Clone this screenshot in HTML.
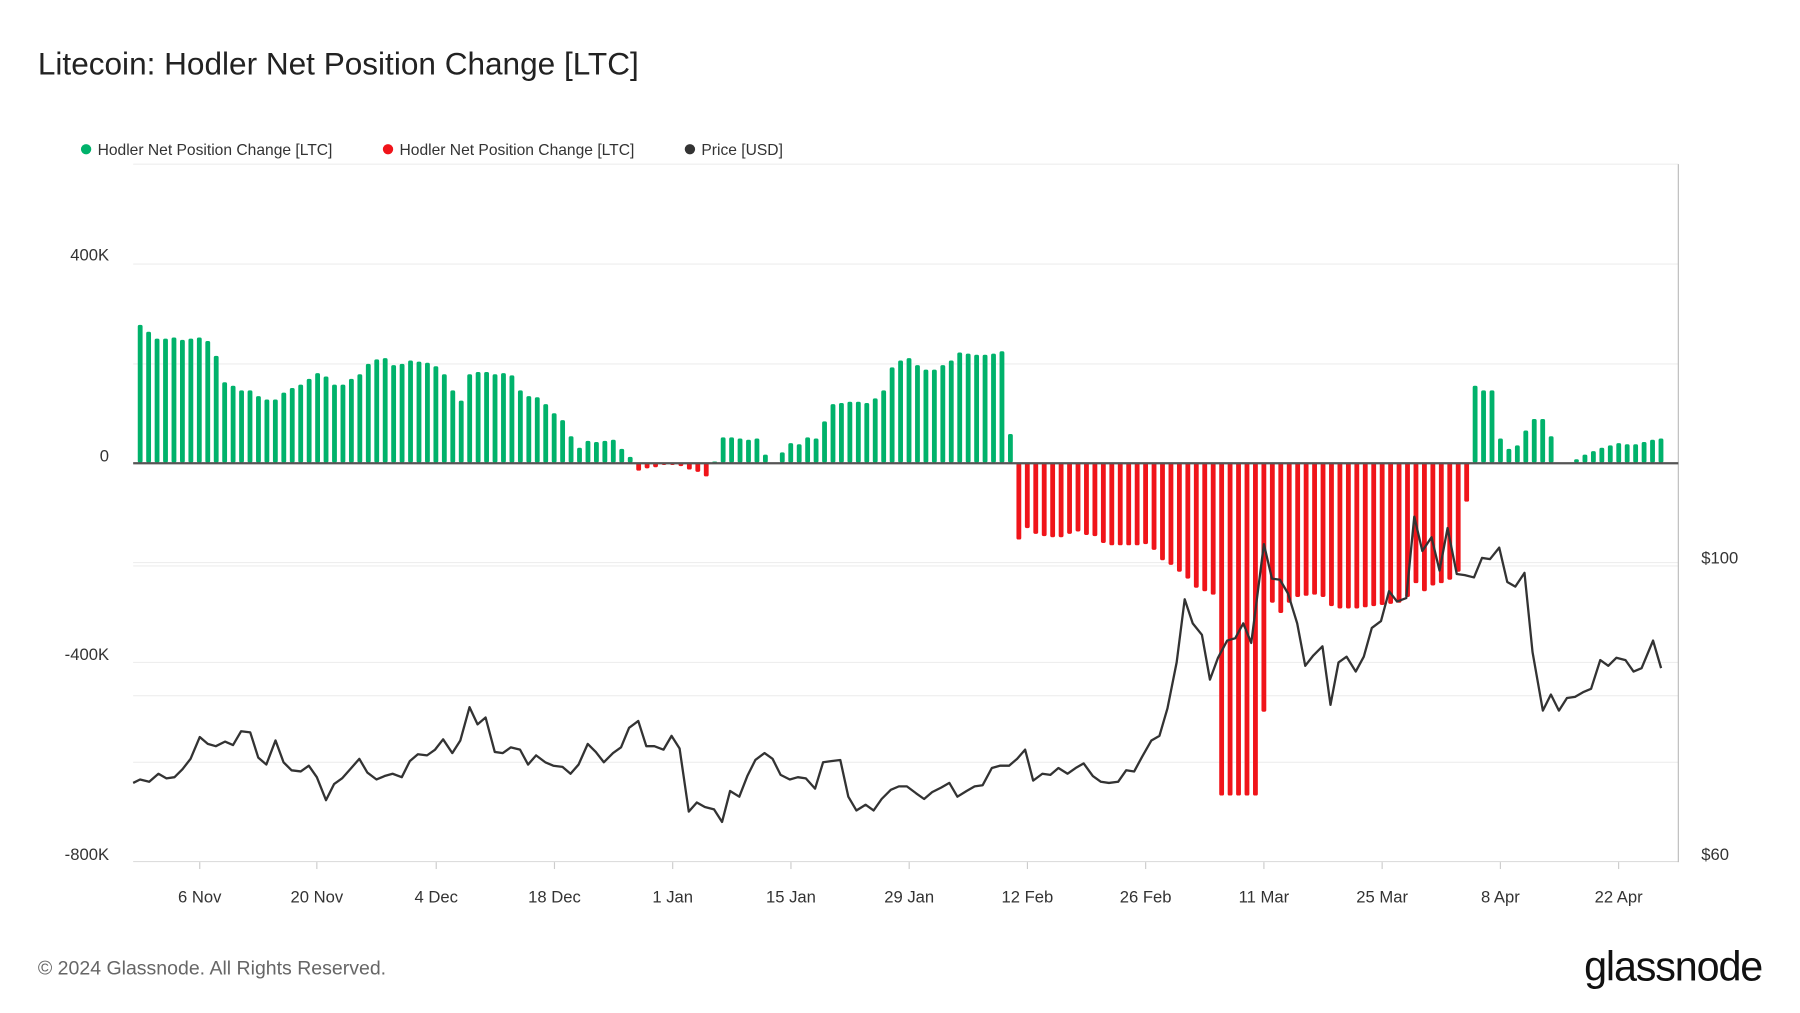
<!DOCTYPE html>
<html><head><meta charset="utf-8"><style>
html,body{margin:0;padding:0;background:#fff}
svg{display:block}
text{font-family:"Liberation Sans",sans-serif}
</style></head><body>
<svg id="s" width="1800" height="1013" viewBox="0 0 1568 882.4" xmlns="http://www.w3.org/2000/svg">
<rect width="1568" height="883" fill="#fff"/>
<text x="33" y="65" font-size="27.5" fill="#222">Litecoin: Hodler Net Position Change [LTC]</text>
<circle cx="75" cy="130" r="4.5" fill="#00b26b"/><text x="85" y="135" font-size="13.6" fill="#333">Hodler Net Position Change [LTC]</text>
<circle cx="338" cy="130" r="4.5" fill="#f0141a"/><text x="348" y="135" font-size="13.6" fill="#333">Hodler Net Position Change [LTC]</text>
<circle cx="601" cy="130" r="4.5" fill="#333"/><text x="611" y="135" font-size="13.6" fill="#333">Price [USD]</text>
<g stroke="#eee" stroke-width="1">
<line x1="116" x2="1462" y1="143" y2="143"/>
<line x1="116" x2="1462" y1="230" y2="230"/>
<line x1="116" x2="1462" y1="317" y2="317"/>
<line x1="116" x2="1462" y1="490" y2="490"/>
<line x1="116" x2="1462" y1="493" y2="493"/>
<line x1="116" x2="1462" y1="577" y2="577"/>
<line x1="116" x2="1462" y1="606" y2="606"/>
<line x1="116" x2="1462" y1="664" y2="664"/>
</g>
<line x1="116" x2="1462" y1="750.5" y2="750.5" stroke="#ddd"/>
<line x1="1462" x2="1462" y1="143" y2="751" stroke="#bbb"/>
<g font-size="14.5" fill="#333" text-anchor="end">
<text x="95" y="227">400K</text><text x="95" y="402">0</text><text x="95" y="575">-400K</text><text x="95" y="749">-800K</text>
</g>
<g font-size="14.5" fill="#333"><text x="1482" y="491">$100</text><text x="1482" y="749">$60</text></g>
<g id="ticks" font-size="14.5" fill="#333" text-anchor="middle"></g>
<g id="bars"></g>
<line x1="116" x2="1462" y1="403.5" y2="403.5" stroke="#555" stroke-width="2"/>
<polyline id="price" fill="none" stroke="#333" stroke-width="2" stroke-linejoin="round"/>
<text x="33" y="849" font-size="17" fill="#666">© 2024 Glassnode. All Rights Reserved.</text>
<text x="1535" y="854" font-size="36" fill="#111" text-anchor="end" letter-spacing="-1">glassnode</text>
</svg>
<script>
(function(){
var NS="http://www.w3.org/2000/svg";
function el(t,a,p,txt){var e=document.createElementNS(NS,t);for(var k in a)e.setAttribute(k,a[k]);if(txt)e.textContent=txt;p.appendChild(e);return e;}
var tk=[[174,"6 Nov"],[276,"20 Nov"],[380,"4 Dec"],[483,"18 Dec"],[586,"1 Jan"],[689,"15 Jan"],[792,"29 Jan"],[895,"12 Feb"],[998,"26 Feb"],[1101,"11 Mar"],[1204,"25 Mar"],[1307,"8 Apr"],[1410,"22 Apr"]];
var T=document.getElementById("ticks");
tk.forEach(function(t){el("line",{x1:t[0],x2:t[0],y1:751,y2:757,stroke:"#ccc"},T);el("text",{x:t[0],y:786},T,t[1]);});
var bp=[122,283,130,289,137,295,145,295,152,294,159,296,167,295,174,294,181,297,188,310,196,333,203,336,210,340,218,340,225,345,232,348,240,348,247,342,254,338,262,335,269,330,276,325,284,328,291,335,298,335,306,330,313,326,320,317,328,313,335,312,342,318,350,317,357,314,364,315,372,316,379,319,386,326,394,340,401,349,409,326,416,324,423,324,431,326,438,325,445,327,453,340,460,345,467,346,475,352,482,360,490,366,497,380,504,390,512,384,519,385,526,384,534,383,541,391,548,398,556,410,563,408,570,407,578,405,585,405,592,406,600,409,607,411,614,415,622,402,629,381,636,381,644,382,651,383,658,382,666,396,673,404,680,394,688,386,695,387,702,381,710,382,717,367,724,352,732,351,739,350,746,350,754,351,761,347,768,340,776,320,783,314,790,312,798,318,805,322,812,322,820,318,827,314,834,307,842,308,849,309,856,309,864,308,871,306,879,378,886,470,893,460,900,465,908,467,915,468,922,468,930,465,937,463,944,466,952,467,959,473,966,475,974,475,981,475,988,475,995,474,1003,479,1010,488,1017,492,1025,498,1032,504,1039,512,1047,515,1054,518,1064,693,1071,693,1079,693,1086,693,1093,693,1101,620,1108,525,1115,534,1122,525,1130,520,1137,519,1144,518,1152,520,1159,528,1166,530,1173,530,1181,530,1188,529,1195,528,1203,527,1210,526,1217,525,1225,520,1232,508,1239,515,1247,510,1254,508,1261,505,1269,498,1277,437,1284,336,1291,340,1298,340,1306,382,1313,391,1320,388,1328,375,1335,365,1342,365,1350,380,1357,403,1364,403,1372,400,1379,396,1386,393,1394,390,1401,388,1408,386,1416,387,1423,387,1430,385,1438,383,1445,382];
var B=document.getElementById("bars");
var n=Math.round((1446-122)/7.36);
for(var i=0;i<=n;i++){var x=122+i*7.36,best=0,bd=1e9;
for(var j=0;j<bp.length;j+=2){var d=Math.abs(bp[j]-x);if(d<bd){bd=d;best=bp[j+1];}}
var yy=best;if(Math.abs(yy-403)<1)continue;
var c=yy<403?"#00b26b":"#f0141a";var ty=Math.min(yy,403),h=Math.abs(yy-403);
el("rect",{x:(x-2).toFixed(2),y:ty,width:4.2,height:h,rx:1.5,fill:c},B);}
var pp=[116,682,122,679,130,681,138,674,145,678,152,677,159,670,166,661,174,642,181,648,188,650,196,646,203,649,210,637,218,638,225,660,232,666,240,645,247,664,254,671,262,672,269,667,276,677,284,697,291,683,298,678,306,669,313,661,320,673,328,679,335,676,342,674,350,677,357,663,364,657,372,658,379,653,386,644,394,656,401,645,409,616,416,631,423,625,431,655,438,656,445,651,453,653,460,666,467,658,475,664,482,667,490,668,497,674,504,666,512,648,519,655,526,664,534,656,541,651,548,634,556,628,563,650,570,650,578,653,585,641,592,652,600,707,607,699,614,703,622,705,629,716,636,689,644,694,651,676,658,662,666,656,673,661,680,675,688,679,695,677,702,678,710,687,717,664,724,663,732,662,739,694,746,706,754,701,761,706,768,696,776,688,783,685,790,685,798,691,805,696,812,690,820,686,827,682,834,694,842,689,849,685,856,684,864,669,871,667,879,667,886,661,893,653,900,680,908,674,915,675,922,669,930,674,937,669,944,665,952,676,959,681,966,682,974,681,981,671,988,672,995,659,1003,645,1010,641,1017,617,1025,577,1032,522,1039,543,1047,553,1054,592,1061,573,1069,558,1076,556,1083,543,1090,560,1101,474,1108,504,1115,505,1122,517,1130,543,1137,580,1144,571,1152,563,1159,614,1166,577,1173,572,1181,585,1188,572,1195,547,1203,541,1210,515,1217,524,1225,521,1232,450,1239,480,1247,468,1254,497,1261,460,1269,500,1276,501,1284,503,1291,486,1298,487,1306,477,1313,507,1320,511,1328,499,1335,568,1344,619,1351,605,1358,619,1365,608,1372,607,1379,603,1386,600,1394,575,1401,580,1408,573,1416,575,1423,585,1430,582,1440,558,1447,582];
var s="";for(var k=0;k<pp.length;k+=2)s+=pp[k]+","+pp[k+1]+" ";
document.getElementById("price").setAttribute("points",s);
})();
</script>
</body></html>
